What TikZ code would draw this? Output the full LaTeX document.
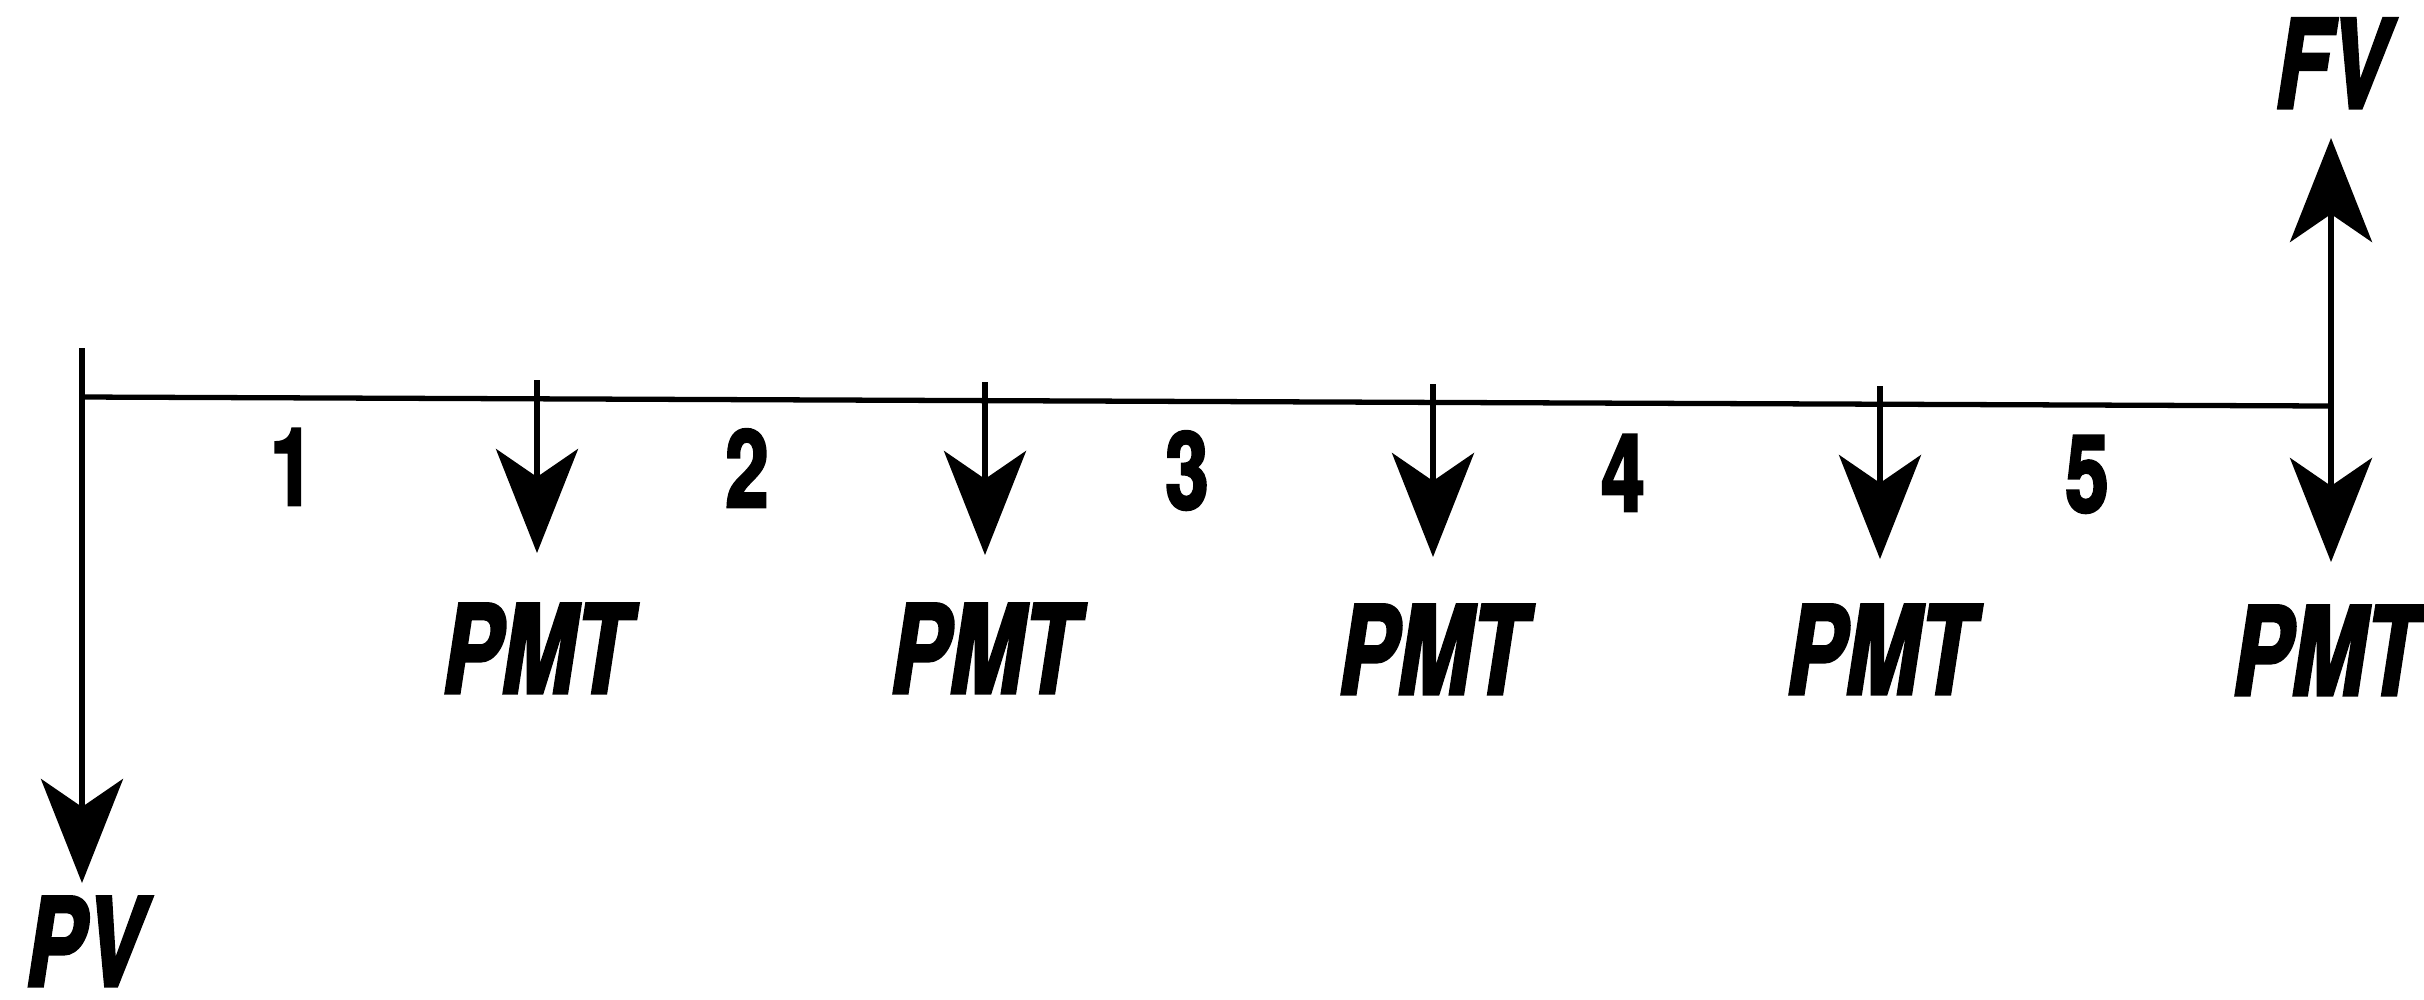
\documentclass[tikz,border=0pt]{standalone}
\usepackage{fontspec}
\setmainfont{TeX Gyre Heros}
\newfontfamily\labfont[FakeStretch=0.72, BoldFeatures={FakeBold=2.5}, BoldItalicFeatures={FakeBold=2.5}]{TeX Gyre Heros}
\usetikzlibrary{arrows.meta}
\begin{document}
\begin{tikzpicture}[x=0.01cm, y=-0.01cm,
  axis/.style={line width=1.5pt, line cap=butt},
  arr/.style={line width=1.5pt, -{Stealth[length=1.04cm, width=0.82cm, inset=0.28cm]}},
  lbl/.style={font=\labfont\bfseries\itshape\fontsize{34.9}{40}\selectfont, inner sep=0pt, anchor=base},
  num/.style={font=\labfont\bfseries\fontsize{30.6}{36}\selectfont, inner sep=0pt, anchor=base}]
\useasboundingbox (0,0) rectangle (2424,999);
\clip (0,0) rectangle (2424,999);
% timeline points
\coordinate (top0) at (82,348);
\coordinate (s) at (82,397);
\coordinate (e) at (2331,406);
\coordinate (pvtip) at (82,883);
\coordinate (k1) at (537,380);  \coordinate (a1) at (537,553);
\coordinate (k2) at (985,382);  \coordinate (a2) at (985,555);
\coordinate (k3) at (1433,384); \coordinate (a3) at (1433,557);
\coordinate (k4) at (1880,386); \coordinate (a4) at (1880,559);
\coordinate (a5) at (2331,562);
\coordinate (fvtip) at (2331,138);
% lines
\draw[axis] (s) -- (e);
\draw[arr] (top0) -- (pvtip);
\draw[arr] (k1) -- (a1);
\draw[arr] (k2) -- (a2);
\draw[arr] (k3) -- (a3);
\draw[arr] (k4) -- (a4);
\draw[arr] (e) -- (a5);
\draw[arr] (e) -- (fvtip);
% period numbers
\node[num] (n1) at (292,505) {1};
\node[num] (n2) at (747,507) {2};
\node[num] (n3) at (1187,509) {3};
\node[num] (n4) at (1623,511) {4};
\node[num] (n5) at (2087,512) {5};
% labels
\node[lbl] (p1) at (536,693) {PMT};
\node[lbl] (p2) at (984,693) {PMT};
\node[lbl] (p3) at (1432,694) {PMT};
\node[lbl] (p4) at (1880,694) {PMT};
\node[lbl] (p5) at (2326,695) {PMT};
\node[lbl] (pv) at (85,986) {PV};
\node[lbl] (fv) at (2332,108) {FV};
\end{tikzpicture}
\end{document}
